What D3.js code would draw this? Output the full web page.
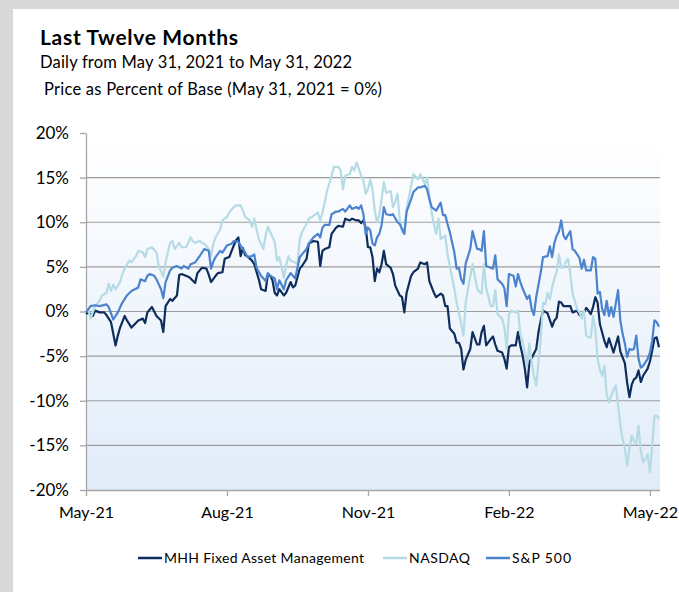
<!DOCTYPE html>
<html>
<head>
<meta charset="utf-8">
<script src="https://cdn.jsdelivr.net/npm/d3@7/dist/d3.min.js"></script>
<style>
body { margin: 0; background: #d9d9d9; font-family: Lato, 'Open Sans', sans-serif; }
svg { display: block; }
</style>
</head>
<body>
<script>
// [trading day since May 31 2021, % change from base]
var mhhData = [[0,-0.3],[1,-0.1],[3,-0.5],[4,0.1],[6,-0.1],[8,-0.1],[9,-0.4],[11,-1.2],[13,-3.8],[14,-2.7],[15,-1.8],[17,-0.5],[18,-1.0],[20,-1.8],[23,-1.0],[25,-0.8],[26,-1.3],[27,-0.1],[29,0.5],[31,-0.5],[33,-1.0],[34,-2.3],[35,0.6],[37,1.4],[38,1.2],[40,1.8],[41,4.1],[42,4.2],[45,3.9],[46,3.7],[48,3.2],[49,4.3],[51,4.9],[53,4.8],[54,4.1],[55,3.3],[57,4.0],[58,4.3],[60,4.4],[61,5.9],[63,6.1],[65,7.4],[66,8.0],[67,8.3],[68,6.2],[69,7.1],[70,6.3],[71,6.2],[73,5.7],[74,5.3],[76,3.6],[77,2.5],[79,2.3],[80,4.2],[81,4.0],[82,3.5],[83,2.1],[84,1.8],[85,2.5],[87,1.8],[88,2.1],[90,3.3],[91,2.7],[92,2.9],[94,4.8],[95,5.1],[97,5.9],[98,7.6],[100,7.9],[102,7.8],[103,5.1],[104,6.8],[105,7.0],[107,7.2],[108,8.7],[110,9.4],[111,9.6],[113,9.5],[114,10.4],[116,10.2],[117,10.4],[119,10.2],[120,10.2],[121,9.9],[122,10.2],[123,9.4],[124,7.2],[125,7.2],[126,6.1],[127,3.4],[128,4.8],[129,4.4],[130,5.3],[131,6.8],[132,5.3],[134,4.9],[135,4.2],[136,2.9],[138,1.8],[139,1.6],[140,-0.1],[141,2.1],[143,4.0],[144,4.4],[146,4.8],[147,5.5],[149,5.3],[150,5.5],[151,3.4],[153,2.1],[154,1.6],[156,2.0],[157,1.8],[158,0.6],[159,0.6],[160,-1.9],[162,-2.5],[163,-3.5],[164,-3.5],[165,-4.2],[166,-6.5],[167,-5.4],[169,-4.2],[170,-2.3],[172,-3.7],[173,-3.7],[174,-2.3],[175,-1.6],[176,-3.8],[178,-3.1],[179,-2.8],[180,-3.7],[181,-4.4],[183,-4.6],[184,-5.3],[185,-6.4],[186,-4.0],[187,-3.8],[189,-3.8],[190,-2.3],[191,-3.8],[192,-4.9],[193,-6.4],[194,-8.5],[195,-5.7],[196,-5.2],[198,-4.2],[199,-2.3],[200,-1.0],[201,0.1],[203,-0.2],[205,-1.7],[206,-1.0],[207,-0.7],[208,1.1],[209,1.0],[210,0.6],[211,0.6],[213,0.6],[214,-0.1],[216,0.1],[217,-0.4],[218,-0.5],[220,0.4],[221,0.1],[222,-0.3],[223,0.5],[224,1.6],[225,1.0],[226,-1.4],[228,-3.3],[229,-4.0],[230,-3.0],[232,-4.6],[234,-2.8],[235,-4.5],[237,-5.8],[238,-8.0],[239,-9.6],[240,-8.2],[241,-7.6],[242,-7.4],[243,-6.6],[244,-7.9],[245,-7.2],[247,-6.4],[248,-5.6],[249,-4.4],[250,-3.0],[251,-2.9],[252,-4.0]];

var nasdaqData = [[0,-0.1],[1,0.3],[2,-0.8],[4,0.6],[6,1.2],[7,1.8],[9,2.1],[10,3.1],[11,2.3],[12,3.0],[13,2.5],[15,3.3],[16,4.2],[17,4.8],[19,5.7],[20,5.5],[22,6.2],[23,6.8],[25,6.6],[26,6.1],[27,7.0],[29,7.2],[31,6.6],[32,5.1],[34,3.9],[35,5.5],[37,7.7],[38,7.9],[39,7.0],[41,7.7],[42,7.2],[44,7.2],[46,8.3],[47,7.9],[48,7.7],[50,7.9],[51,7.7],[52,7.6],[54,7.0],[55,6.2],[56,7.6],[57,8.3],[59,9.2],[60,10.2],[62,10.6],[63,11.1],[65,11.7],[66,11.9],[68,11.9],[69,11.3],[70,10.6],[72,10.2],[73,9.5],[74,10.4],[75,9.2],[76,8.1],[78,7.0],[79,8.5],[80,9.5],[81,8.9],[83,7.8],[84,5.7],[85,6.1],[87,3.8],[88,5.1],[89,6.2],[90,5.7],[92,5.5],[93,5.3],[94,8.1],[95,8.9],[97,9.8],[98,10.4],[100,10.7],[102,11.1],[103,10.2],[104,11.1],[105,12.2],[106,13.5],[108,15.2],[109,16.2],[111,16.2],[112,15.8],[113,13.7],[114,15.2],[116,15.4],[117,16.2],[118,15.8],[119,16.7],[120,16.0],[121,15.2],[122,14.7],[123,13.2],[124,13.7],[125,14.8],[126,13.7],[127,11.3],[128,10.0],[129,10.8],[130,12.6],[131,14.5],[132,13.3],[134,13.5],[135,11.7],[136,12.3],[137,13.2],[138,10.2],[139,8.9],[140,8.7],[141,11.5],[143,14.1],[144,15.4],[146,14.8],[147,15.4],[149,14.3],[150,15.0],[151,13.0],[152,11.1],[153,9.8],[154,8.7],[155,10.4],[156,8.1],[158,8.5],[159,6.4],[160,5.1],[162,2.5],[163,1.0],[165,-1.4],[166,-2.7],[167,1.0],[168,2.5],[170,5.3],[172,2.6],[173,2.2],[174,2.0],[175,5.3],[176,2.6],[178,0.6],[179,0.6],[180,2.4],[181,-0.3],[183,-0.8],[184,-1.8],[185,-4.2],[186,-0.3],[187,0.1],[189,-0.1],[190,0.1],[191,-2.5],[192,-3.4],[194,-6.1],[195,-3.6],[196,-5.7],[197,-7.2],[198,-8.3],[200,-3.1],[201,1.0],[202,0.8],[203,2.1],[204,1.4],[205,2.7],[206,3.7],[207,4.4],[208,6.4],[209,4.9],[210,4.9],[211,5.6],[212,5.9],[213,4.2],[214,2.0],[216,0.3],[217,-0.1],[218,-0.8],[219,0.1],[220,-2.7],[221,-2.9],[222,-2.9],[223,-0.5],[224,-2.0],[225,-5.3],[226,-6.5],[227,-7.2],[228,-6.1],[229,-9.4],[230,-10.2],[231,-9.4],[232,-8.8],[233,-8.3],[234,-10.5],[235,-12.8],[236,-14.3],[237,-15.4],[238,-17.3],[239,-15.4],[240,-13.9],[241,-14.5],[242,-14.8],[243,-12.8],[244,-15.6],[245,-16.9],[246,-16.5],[247,-16.0],[248,-18.0],[249,-15.0],[250,-11.7],[251,-11.7],[252,-12.0]];

var spData = [[0,-0.1],[2,0.6],[4,0.7],[6,0.6],[9,0.8],[10,0.5],[12,-0.9],[14,-0.1],[16,1.0],[18,1.8],[20,2.3],[23,2.7],[24,3.6],[26,3.4],[27,4.0],[28,4.2],[30,4.0],[31,3.6],[33,2.5],[34,1.5],[35,3.3],[37,4.6],[38,4.9],[40,5.1],[42,4.8],[43,5.1],[45,4.8],[46,5.3],[48,5.5],[50,6.2],[52,7.0],[54,6.8],[55,4.8],[56,5.6],[57,6.1],[59,6.8],[60,6.6],[62,7.4],[64,7.6],[65,7.9],[67,7.8],[68,7.4],[70,6.6],[71,6.1],[73,6.2],[74,6.4],[75,4.9],[77,4.0],[79,3.4],[80,4.3],[81,4.0],[83,3.7],[84,2.5],[85,3.5],[87,2.5],[88,3.5],[90,4.3],[91,4.0],[92,3.7],[94,6.1],[95,6.4],[97,7.0],[98,7.6],[100,8.3],[102,8.7],[103,8.3],[104,9.4],[105,9.7],[107,9.7],[108,10.9],[110,11.2],[111,11.2],[113,11.5],[114,11.2],[116,11.9],[117,11.5],[119,11.7],[120,11.5],[121,11.9],[122,10.9],[123,8.7],[124,9.4],[125,9.1],[126,7.6],[127,7.4],[128,8.3],[129,8.7],[130,9.7],[131,11.7],[132,10.9],[134,10.8],[135,10.9],[137,10.0],[138,9.8],[140,8.7],[141,11.2],[143,12.6],[144,13.4],[146,13.9],[147,13.9],[149,14.1],[150,13.7],[151,12.6],[152,11.7],[154,11.3],[156,12.2],[157,10.8],[158,10.8],[159,9.8],[160,8.9],[162,6.6],[163,4.8],[164,4.9],[165,3.6],[166,3.1],[167,5.4],[169,7.0],[170,9.0],[172,7.0],[173,7.0],[174,6.8],[175,9.0],[176,5.1],[178,4.9],[179,4.8],[180,6.3],[181,3.6],[183,3.1],[184,2.6],[185,0.6],[186,4.2],[188,4.0],[189,2.8],[190,4.2],[191,3.3],[192,2.6],[194,1.4],[195,1.8],[196,0.3],[197,-0.4],[198,1.6],[200,4.4],[201,6.1],[203,6.2],[204,7.3],[205,6.1],[206,7.7],[207,8.5],[208,9.0],[209,10.2],[210,8.5],[211,8.1],[212,8.6],[213,9.0],[214,7.0],[215,6.8],[217,6.0],[218,4.8],[219,5.8],[220,4.6],[222,4.6],[223,6.1],[224,5.9],[225,2.0],[226,2.2],[227,0.3],[228,-0.4],[229,1.2],[230,-0.5],[231,0.5],[232,-0.6],[234,2.4],[235,-1.0],[236,-2.5],[237,-3.6],[238,-5.1],[239,-4.2],[240,-4.3],[241,-4.2],[242,-2.7],[243,-5.3],[244,-6.3],[245,-6.1],[247,-5.3],[248,-4.6],[249,-3.3],[250,-1.0],[251,-1.2],[252,-1.7]];

var yTicks = [-20, -15, -10, -5, 0, 5, 10, 15, 20];
var xTickDays = [0, 62, 124, 186, 248];
var xTickLabels = ['May-21', 'Aug-21', 'Nov-21', 'Feb-22', 'May-22'];
var seriesNames = ['MHH Fixed Asset Management', 'NASDAQ', 'S&P 500'];
var seriesColors = ['#0d2d5c', '#b5dbe5', '#4c83cf'];

var width = 679, height = 592;
var plot = {left: 86, right: 660, top: 133, bottom: 490};

var svg = d3.select('body').append('svg').attr('width', width).attr('height', height);

//white card on the grey page
svg.append('rect').attr('x', 13).attr('y', 9).attr('width', width - 13).attr('height', height - 9).attr('fill', '#fff');

var grad = svg.append('defs').append('linearGradient').attr('id', 'bg')
    .attr('x1', 0).attr('y1', 0).attr('x2', 0).attr('y2', 1);
grad.append('stop').attr('offset', '0%').attr('stop-color', '#ffffff');
grad.append('stop').attr('offset', '100%').attr('stop-color', '#e1ecf9');

var x = d3.scaleLinear().domain([0, 252]).range([plot.left, plot.right - 1]);
var y = d3.scaleLinear().domain([-20, 20]).range([plot.bottom, plot.top]);

svg.append('rect')
    .attr('x', plot.left).attr('y', plot.top)
    .attr('width', plot.right - plot.left).attr('height', plot.bottom - plot.top)
    .attr('fill', 'url(#bg)');

//horizontal gridlines
svg.append('g').selectAll('line')
    .data(yTicks.filter(function (d) { return d > -20 && d < 20; }))
    .enter().append('line')
    .attr('x1', plot.left).attr('x2', plot.right)
    .attr('y1', function (d) { return y(d); })
    .attr('y2', function (d) { return y(d); })
    .attr('stroke', '#9c9c9c').attr('stroke-width', 1.2);

var yAxis = svg.append('g').attr('transform', 'translate(' + plot.left + ',0)')
    .call(d3.axisLeft(y).tickValues(yTicks).tickSize(6).tickSizeOuter(0).tickPadding(11)
        .tickFormat(function (d) { return d + '%'; }));

var xAxis = svg.append('g').attr('transform', 'translate(0,' + plot.bottom + ')')
    .call(d3.axisBottom(x).tickValues(xTickDays).tickSize(6).tickSizeOuter(0).tickPadding(11)
        .tickFormat(function (d, i) { return xTickLabels[i]; }));

xAxis.select('.domain').attr('d', 'M' + plot.left + ',0.5H' + plot.right);

[yAxis, xAxis].forEach(function (a) {
    a.select('.domain').attr('stroke', '#a6a6a6').attr('stroke-width', 1.3);
    a.selectAll('.tick line').attr('stroke', '#a6a6a6').attr('stroke-width', 1.3);
    a.selectAll('text').attr('fill', '#000').style('font-family', 'Lato, sans-serif');
});
yAxis.selectAll('text').style('font-size', '17px');
xAxis.selectAll('text').style('font-size', '16px');

var line = d3.line()
    .x(function (d) { return x(d[0]); })
    .y(function (d) { return y(d[1]); });

var allSeries = [mhhData, nasdaqData, spData];
svg.append('g').selectAll('path')
    .data(allSeries)
    .enter().append('path')
    .attr('d', line)
    .attr('fill', 'none')
    .attr('stroke', function (d, i) { return seriesColors[i]; })
    .attr('stroke-width', 2.2)
    .attr('stroke-linejoin', 'round');

//titles
svg.append('text').attr('x', 40).attr('y', 45).text('Last Twelve Months')
    .style('font-size', '21px').style('font-weight', 'bold').attr('textLength', 198);
svg.append('text').attr('x', 40).attr('y', 68).text('Daily from May 31, 2021 to May 31, 2022')
    .style('font-size', '16.5px').attr('textLength', 312);
svg.append('text').attr('x', 44).attr('y', 95).text('Price as Percent of Base (May 31, 2021 = 0%)')
    .style('font-size', '16.5px').attr('textLength', 338);

//legend
var legendX = [138, 383, 486];
var legendW = [200, 61, 59];
var legend = svg.append('g').selectAll('g')
    .data(seriesNames)
    .enter().append('g')
    .attr('transform', function (d, i) { return 'translate(' + legendX[i] + ',558)'; });
legend.append('line').attr('x1', 0).attr('x2', 24).attr('y1', 0).attr('y2', 0)
    .attr('stroke', function (d, i) { return seriesColors[i]; }).attr('stroke-width', 2.5);
legend.append('text').attr('x', 26).attr('y', 5).text(function (d) { return d; })
    .style('font-size', '14px').attr('textLength', function (d, i) { return legendW[i]; });
</script>
</body>
</html>
